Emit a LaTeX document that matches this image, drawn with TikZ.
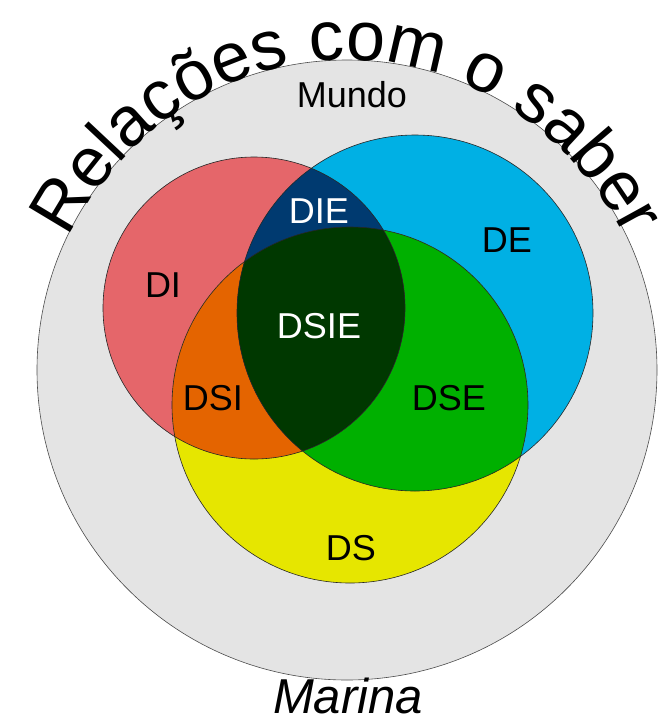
\documentclass[tikz,border=0pt]{standalone}
\usepackage{fontspec}
\setmainfont{Liberation Sans}
\usetikzlibrary{decorations.text}

\definecolor{cMundo}{HTML}{E4E4E4}
\definecolor{cDI}{HTML}{E5666A}
\definecolor{cDE}{HTML}{00B0E4}
\definecolor{cDS}{HTML}{E6E600}
\definecolor{cDSI}{HTML}{E46400}
\definecolor{cDSE}{HTML}{00B000}
\definecolor{cDIE}{HTML}{003A70}
\definecolor{cDSIE}{HTML}{003800}

\begin{document}
\begin{tikzpicture}[x=1pt,y=-1pt,
    rim/.style={draw=black!85,line width=0.6pt},
    lbl/.style={font=\fontsize{36}{40}\selectfont,anchor=base,inner sep=0pt},
    lblw/.style={lbl,text=white}]
\useasboundingbox (0,0) rectangle (667,724);
\coordinate (mundo) at (347,370);
\coordinate (tcen) at (347,405);
\coordinate (di) at (254,308);
\coordinate (de) at (415,313);
\coordinate (ds) at (350,405);
\def\rdi{151}
\def\rde{178}
\def\rds{178}
\filldraw[fill=cMundo,draw=black!70,line width=0.6pt] (mundo) circle[radius=310];
\fill[cDI] (di) circle[radius=\rdi];
\fill[cDE] (de) circle[radius=\rde];
\fill[cDS] (ds) circle[radius=\rds];
\begin{scope}
  \clip (de) circle[radius=\rde];
  \fill[cDSE] (ds) circle[radius=\rds];
\end{scope}
\begin{scope}
  \clip (di) circle[radius=\rdi];
  \fill[cDSI] (ds) circle[radius=\rds];
  \fill[cDIE] (de) circle[radius=\rde];
  \clip (de) circle[radius=\rde];
  \fill[cDSIE] (ds) circle[radius=\rds];
\end{scope}
\draw[rim] (di) circle[radius=\rdi];
\draw[rim] (de) circle[radius=\rde];
\draw[rim] (ds) circle[radius=\rds];
\path[decorate,decoration={text along path,text align=center,
    text={|\fontsize{70}{78}\selectfont|Relações com o saber}}]
  ([shift={(200:318 and 345)}]tcen) arc[start angle=200,end angle=340,x radius=318,y radius=345];
\node[lbl] (mundoLbl) at (352,107) {Mundo};
\node[lbl] (diLbl) at (163,297) {DI};
\node[lbl] (deLbl) at (507,252) {DE};
\node[lblw] (dieLbl) at (319,223) {DIE};
\node[lblw] (dsieLbl) at (319,338) {DSIE};
\node[lbl] (dsiLbl) at (213,410) {DSI};
\node[lbl] (dseLbl) at (449,410) {DSE};
\node[lbl] (dsLbl) at (351,560) {DS};
\node[font=\fontsize{49}{54}\selectfont\itshape,anchor=base,inner sep=0pt] (autor) at (348,713) {Marina};
\end{tikzpicture}
\end{document}
